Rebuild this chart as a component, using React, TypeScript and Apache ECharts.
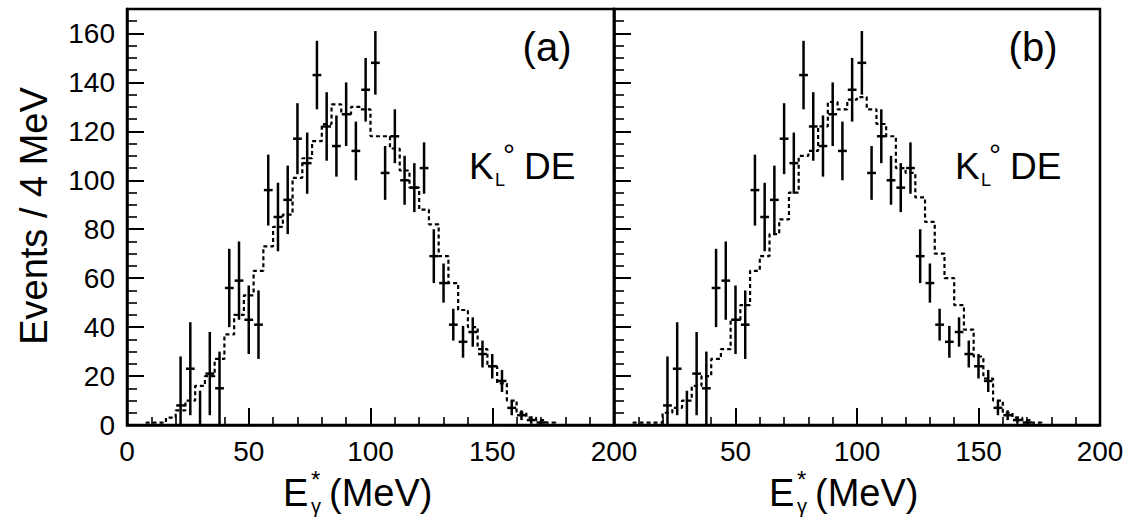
import React, { useEffect, useRef } from 'react';
import * as echarts from 'echarts';

// Data points (same measured spectrum in both panels), 4 MeV bins
const binCenters = [22, 26, 30, 34, 38, 42, 46, 50, 54, 58, 62, 66, 70, 74, 78, 82, 86, 90, 94, 98, 102, 106, 110, 114, 118, 122, 126, 130, 134, 138, 142, 146, 150, 154, 158, 162, 166, 170];
const dataValues = [8, 23, 0, 21, 15, 56, 59, 43, 41, 96, 85, 92, 117, 107, 143, 122, 114, 127, 112, 137, 148, 103, 118, 100, 97, 105, 69, 58, 41, 34, 38, 29, 24, 18, 7, 4, 2, 1];
const dataErrors = [20, 19, 14, 17, 15, 16, 16, 14, 14, 14.5, 14, 14, 14.5, 12.5, 14, 14, 12.5, 13, 12, 13, 13, 11, 11, 10, 10, 10.5, 11, 8, 6.5, 6.5, 6, 5.5, 5, 4.5, 3, 2, 1.5, 1];

// Monte Carlo histograms (dashed), bin edges every 4 MeV
const mcEdges = [0, 4, 8, 12, 16, 20, 24, 28, 32, 36, 40, 44, 48, 52, 56, 60, 64, 68, 72, 76, 80, 84, 88, 92, 96, 100, 104, 108, 112, 116, 120, 124, 128, 132, 136, 140, 144, 148, 152, 156, 160, 164, 168, 172, 176, 180];
const mcA = [0, 0, 1, 1, 3, 6, 10, 16, 20, 27, 37, 45, 53, 63, 73, 81, 86, 101, 109, 116, 123, 131, 127, 130, 129, 118, 118, 113, 104, 97, 88, 82, 69, 58, 47, 40, 31, 24, 17, 10, 5, 3, 2, 1, 0];
const mcB = [0, 0, 1, 1, 1, 5, 7, 10, 16, 20, 27, 31, 43, 49, 63, 69, 78, 84, 95, 110, 112, 122, 132, 129, 133, 134, 129, 123, 118, 105, 103, 93, 83, 70, 60, 49, 39, 28, 19, 10, 5, 3, 2, 1, 0];

const xTickLabels = ['0', '50', '100', '150', '200'];
const yTickLabels = ['0', '20', '40', '60', '80', '100', '120', '140', '160'];
const panelLabels = ['(a)', '(b)'];

const FONT = '"Liberation Sans", Arial, Helvetica, sans-serif';
const BLACK = '#000';

function stepData(vals: number[]) {
  return mcEdges.map((e, i) => [e, vals[Math.min(i, vals.length - 1)]]);
}

function errData() {
  return binCenters.map((c, i) => [c, dataValues[i], dataErrors[i]]);
}

function renderErr(params: any, api: any) {
  const x = api.value(0);
  const y = api.value(1);
  const e = api.value(2);
  const lo = Math.max(0, y - e);
  const hi = Math.min(170, y + e);
  const pTop = api.coord([x, hi]);
  const pBot = api.coord([x, lo]);
  const children: any[] = [
    {
      type: 'line',
      shape: { x1: pTop[0], y1: pTop[1], x2: pBot[0], y2: pBot[1] },
      style: { stroke: BLACK, lineWidth: 2.5 },
    },
  ];
  if (y > 0) {
    const pL = api.coord([x - 1.8, y]);
    const pR = api.coord([x + 1.8, y]);
    children.push({
      type: 'line',
      shape: { x1: pL[0], y1: pL[1], x2: pR[0], y2: pR[1] },
      style: { stroke: BLACK, lineWidth: 2.5 },
    });
  }
  return { type: 'group', children };
}

function xAxisCfg(gridIndex: number, hideZero: boolean) {
  return {
    gridIndex,
    type: 'value',
    min: 0,
    max: 200,
    interval: 50,
    axisLine: { show: true, lineStyle: { color: BLACK, width: 2.5 } },
    axisTick: { show: true, inside: true, length: 17, lineStyle: { color: BLACK, width: 2 } },
    minorTick: { show: true, splitNumber: 5, length: 8, lineStyle: { color: BLACK, width: 1.6 } },
    splitLine: { show: false },
    minorSplitLine: { show: false },
    axisLabel: {
      show: true,
      color: BLACK,
      fontFamily: FONT,
      fontSize: 28,
      margin: 12,
      formatter: (v: number) => {
        if (hideZero && v === 0) return '';
        const idx = Math.round(v / 50);
        return xTickLabels[idx] ?? '';
      },
    },
  };
}

function yAxisMain(gridIndex: number, showLabels: boolean) {
  return {
    gridIndex,
    type: 'value',
    position: 'left',
    min: 0,
    max: 170,
    interval: 20,
    axisLine: { show: true, lineStyle: { color: BLACK, width: 2.5 } },
    axisTick: { show: true, inside: true, length: 17, lineStyle: { color: BLACK, width: 2 } },
    splitLine: { show: false },
    axisLabel: {
      show: showLabels,
      color: BLACK,
      fontFamily: FONT,
      fontSize: 28,
      margin: 12,
      formatter: (v: number) => {
        const idx = Math.round(v / 20);
        return v > 160 ? '' : yTickLabels[idx] ?? '';
      },
    },
  };
}

function yAxisMinor(gridIndex: number) {
  return {
    gridIndex,
    type: 'value',
    position: 'left',
    min: 0,
    max: 170,
    interval: 5,
    axisLine: { show: false },
    axisTick: { show: true, inside: true, length: 10, lineStyle: { color: BLACK, width: 1.6 } },
    splitLine: { show: false },
    axisLabel: { show: false },
  };
}

function panelTexts(dx: number, label: string) {
  const t = (text: string, x: number, y: number, size: number, align = 'left') => ({
    type: 'text',
    x: x + dx,
    y,
    style: {
      text,
      fill: BLACK,
      font: `${size}px ${FONT}`,
      align,
      verticalAlign: 'middle',
    },
  });
  return [
    t(label, 547, 47, 40, 'center'),
    t('K', 469, 166, 37),
    t('L', 495, 180, 18),
    t('°', 503, 154, 30),
    t('DE', 524, 166, 37),
    t('E', 283, 493, 38),
    t('γ', 311, 506, 20),
    t('*', 311, 479, 24),
    t('(MeV)', 329, 493, 38),
  ];
}

export default function App() {
  const ref = useRef<HTMLDivElement>(null);

  useEffect(() => {
    if (!ref.current) return;
    const chart = echarts.init(ref.current, undefined, { renderer: 'svg' });
    const option: any = {
      animation: false,
      backgroundColor: '#fff',
      grid: [
        { left: 127, top: 9, width: 487, height: 416, show: true, borderColor: BLACK, borderWidth: 2.5, backgroundColor: 'transparent' },
        { left: 614, top: 9, width: 486, height: 416, show: true, borderColor: BLACK, borderWidth: 2.5, backgroundColor: 'transparent' },
      ],
      xAxis: [xAxisCfg(0, false), xAxisCfg(1, true)],
      yAxis: [yAxisMain(0, true), yAxisMinor(0), yAxisMain(1, false), yAxisMinor(1)],
      series: [
        {
          type: 'line',
          xAxisIndex: 0,
          yAxisIndex: 0,
          step: 'end',
          symbol: 'none',
          data: stepData(mcA),
          lineStyle: { color: BLACK, width: 2.2, type: [4, 3] },
          z: 2,
        },
        {
          type: 'custom',
          xAxisIndex: 0,
          yAxisIndex: 0,
          renderItem: renderErr,
          encode: { x: 0, y: 1 },
          data: errData(),
          z: 3,
        },
        {
          type: 'line',
          xAxisIndex: 1,
          yAxisIndex: 2,
          step: 'end',
          symbol: 'none',
          data: stepData(mcB),
          lineStyle: { color: BLACK, width: 2.2, type: [4, 3] },
          z: 2,
        },
        {
          type: 'custom',
          xAxisIndex: 1,
          yAxisIndex: 2,
          renderItem: renderErr,
          encode: { x: 0, y: 1 },
          data: errData(),
          z: 3,
        },
      ],
      graphic: [
        ...panelTexts(0, panelLabels[0]),
        ...panelTexts(486, panelLabels[1]),
        {
          type: 'text',
          x: 34,
          y: 216,
          rotation: Math.PI / 2,
          style: {
            text: 'Events / 4 MeV',
            fill: BLACK,
            font: `38px ${FONT}`,
            align: 'center',
            verticalAlign: 'middle',
          },
        },
      ],
    };
    chart.setOption(option);
    return () => chart.dispose();
  }, []);

  return (
    <div
      ref={ref}
      style={{ position: 'fixed', left: 0, top: 0, width: 1141, height: 518, background: '#fff' }}
    />
  );
}
